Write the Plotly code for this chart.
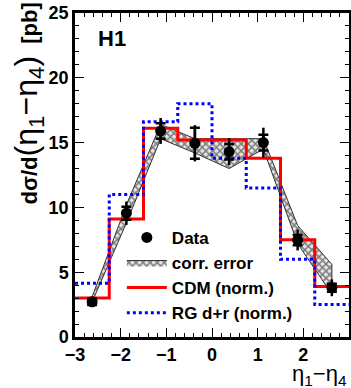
import plotly.graph_objects as go

# ---- data ----
edges = [-3, -2.25, -1.5, -0.75, 0, 0.75, 1.5, 2.25, 3]
centers = [-2.625, -1.875, -1.125, -0.375, 0.375, 1.125, 1.875, 2.625]
data_vals = [2.72, 9.55, 15.9, 14.95, 14.3, 15.0, 7.48, 3.8]
stat_err = [0.25, 0.5, 0.6, 1.2, 0.6, 0.6, 0.4, 0.3]
tot_err = [0.4, 0.9, 1.0, 1.4, 1.05, 1.15, 0.8, 0.65]
band_lo = [2.7, 8.8, 15.3, 14.2, 13.0, 14.5, 7.2, 3.3]
band_hi = [3.1, 10.2, 16.4, 15.3, 15.3, 15.3, 8.6, 5.6]
cdm = [3.0, 9.1, 16.1, 15.2, 15.2, 13.8, 7.5, 3.9]
rg = [4.15, 11.0, 16.6, 18.0, 13.8, 11.5, 6.0, 2.5]

FONT = "Arial, Liberation Sans, sans-serif"

fig = go.Figure()

# correlated error band
fig.add_trace(go.Scatter(
    x=centers + centers[::-1],
    y=band_hi + band_lo[::-1],
    fill="toself", mode="lines",
    line=dict(color="#333333", width=1),
    fillcolor="white",
    fillpattern=dict(shape="x", fgcolor="#111111", bgcolor="#e6e6e6", size=5, solidity=0.5),
    name="<b>corr. error</b>", legendrank=2,
))

# CDM histogram
fig.add_trace(go.Scatter(
    x=edges, y=cdm + [cdm[-1]], mode="lines", line_shape="hv",
    line=dict(color="#ff0000", width=3),
    name="<b>CDM (norm.)</b>", legendrank=3,
))

# RG d+r histogram
fig.add_trace(go.Scatter(
    x=edges, y=rg + [rg[-1]], mode="lines", line_shape="hv",
    line=dict(color="#0000ff", width=3, dash="dot"),
    name="<b>RG d+r (norm.)</b>", legendrank=4,
))

# data: total error (no cap)
fig.add_trace(go.Scatter(
    x=centers, y=data_vals, mode="markers",
    marker=dict(color="black", size=1),
    error_y=dict(type="data", array=tot_err, color="black", thickness=2.5, width=0),
    showlegend=False, hoverinfo="skip",
))
# data: stat error with ticks
fig.add_trace(go.Scatter(
    x=centers, y=data_vals, mode="markers",
    marker=dict(color="black", size=11, symbol="circle"),
    error_y=dict(type="data", array=stat_err, color="black", thickness=2.5, width=5),
    name="<b>Data</b>", legendrank=1,
))

axis_common = dict(
    showline=True, linecolor="black", linewidth=2.5, mirror="allticks",
    ticks="inside", ticklen=9, tickwidth=1.2, tickcolor="black",
    showgrid=False, zeroline=False, automargin=False,
    tickfont=dict(family=FONT, size=18, color="black", weight="bold"),
)

fig.update_xaxes(
    range=[-3, 3], tickvals=[-3, -2, -1, 0, 1, 2, 3],
    minor=dict(dtick=0.2, ticks="inside", ticklen=4, tickcolor="black", tickwidth=1),
    **axis_common,
)
fig.update_yaxes(
    range=[0, 25], tickvals=[0, 5, 10, 15, 20, 25],
    minor=dict(dtick=1, ticks="inside", ticklen=4, tickcolor="black", tickwidth=1),
    **axis_common,
)

ytitle = ("<b>dσ/d</b><span style='font-size:32px'>(η<sub>1</sub>−η<sub>4</sub>)</span>"
          "<b>  [pb]</b>")
fig.add_annotation(text=ytitle, xref="paper", yref="paper", x=-0.17, y=0.722,
                   textangle=-90, showarrow=False, xanchor="center", yanchor="middle",
                   font=dict(family=FONT, size=22, color="black"))

fig.add_annotation(text="<b>H1</b>", xref="paper", yref="paper", x=0.135, y=0.92,
                   xanchor="center", yanchor="middle",
                   showarrow=False, font=dict(family=FONT, size=22, color="black"))
fig.add_annotation(text="η<sub>1</sub>−η<sub>4</sub>", xref="paper", yref="paper",
                   x=1.0, y=-0.116, xanchor="right", yanchor="middle", showarrow=False,
                   font=dict(family=FONT, size=22, color="black"))

fig.update_layout(
    width=351, height=388,
    margin=dict(l=75, r=2, t=13, b=51),
    paper_bgcolor="white", plot_bgcolor="white",
    legend=dict(x=0.171, y=0.3615, xanchor="left", yanchor="top",
                bgcolor="rgba(0,0,0,0)", font=dict(family=FONT, size=17, color="black"),
                tracegroupgap=0, itemwidth=40),
    showlegend=True,
)

fig.write_html("out.html", config={"displayModeBar": False},
               post_script="document.body.style.margin='0';")
